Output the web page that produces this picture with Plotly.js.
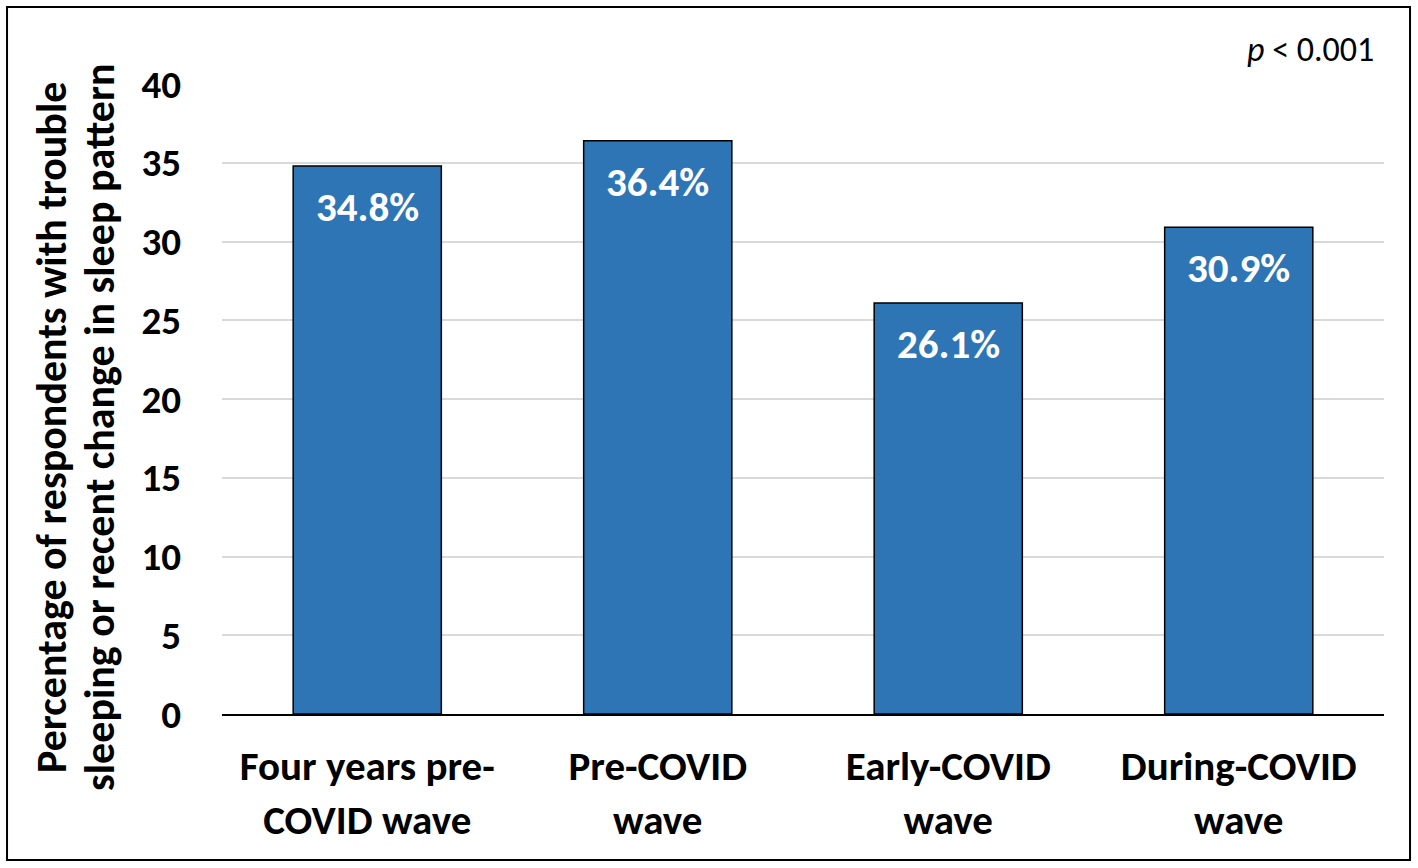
<!DOCTYPE html>
<html>
<head>
<meta charset="utf-8">
<script src="https://cdn.plot.ly/plotly-3.0.1.min.js"></script>
<style>
  html, body { margin: 0; padding: 0; background: #fff; }
  #chart { width: 1418px; height: 868px; }
</style>
</head>
<body>
<div id="chart"></div>
<script>
// data
var waves = ['Four years pre-<br>COVID wave', 'Pre-COVID<br>wave', 'Early-COVID<br>wave', 'During-COVID<br>wave'];
var sleepPct = [34.8, 36.4, 26.1, 30.9];
var pctLabels = ['34.8%', '36.4%', '26.1%', '30.9%'];
var yTicks = [0, 5, 10, 15, 20, 25, 30, 35, 40];
var yTitleLines = ['Percentage of respondents with trouble', 'sleeping or recent change in sleep pattern'];

var font = 'Carlito, Calibri, Lato, "Open Sans", sans-serif';

var trace = {
  x: waves,
  y: sleepPct,
  type: 'bar',
  width: 0.51,
  marker: { color: '#2E75B6', line: { color: '#000', width: 1.5 } },
  hoverinfo: 'x+y'
};

// value labels sit inside the top of each bar
var labels = [];
for (let i = 0; i < waves.length; i++) {
  labels.push({
    x: waves[i], y: sleepPct[i], xref: 'x', yref: 'y',
    text: '<b>' + pctLabels[i] + '</b>',
    showarrow: false, yanchor: 'middle', yshift: -41,
    font: { family: font, size: 41, color: '#fff' }
  });
}

// y title as two rotated lines (tighter line spacing than axis title)
var titleShift = [-170, -122];
for (let i = 0; i < yTitleLines.length; i++) {
  labels.push({
    xref: 'paper', yref: 'paper', x: 0, y: 0.454, xshift: titleShift[i],
    xanchor: 'center', yanchor: 'middle', textangle: -90,
    text: '<b>' + yTitleLines[i] + '</b>', showarrow: false,
    font: { family: font, size: 42, color: '#000' }
  });
}

labels.push({
  xref: 'paper', yref: 'paper', x: 0.993, y: 1.055,
  xanchor: 'right', yanchor: 'middle',
  text: '<i>p</i> < 0.001', showarrow: false,
  font: { family: font, size: 34, color: '#000' }
});

var layout = {
  width: 1418,
  height: 868,
  margin: { l: 222, r: 34, t: 84, b: 154 },
  paper_bgcolor: '#fff',
  plot_bgcolor: '#fff',
  showlegend: false,
  font: { family: font, color: '#000' },
  bargap: 0.49,
  xaxis: {
    showline: true, linecolor: '#000', linewidth: 2,
    ticks: '', ticklabelstandoff: 15,
    tickfont: { family: font, size: 41, color: '#000', weight: 'bold' },
    showgrid: false, fixedrange: true
  },
  yaxis: {
    range: [0, 40],
    tickvals: yTicks,
    showgrid: true, gridcolor: '#d9d9d9', gridwidth: 2,
    zeroline: false, showline: false,
    ticks: '', ticklabelstandoff: 40,
    tickfont: { family: font, size: 39, color: '#000', weight: 'bold' },
    fixedrange: true
  },
  annotations: labels,
  shapes: [{
    type: 'rect', xref: 'paper', yref: 'paper',
    x0: -0.185, x1: 1.0224, y0: -0.2317, y1: 1.1222,
    line: { color: '#000', width: 2 }
  }]
};

Plotly.newPlot('chart', [trace], layout, { displayModeBar: false, staticPlot: true });
</script>
</body>
</html>
